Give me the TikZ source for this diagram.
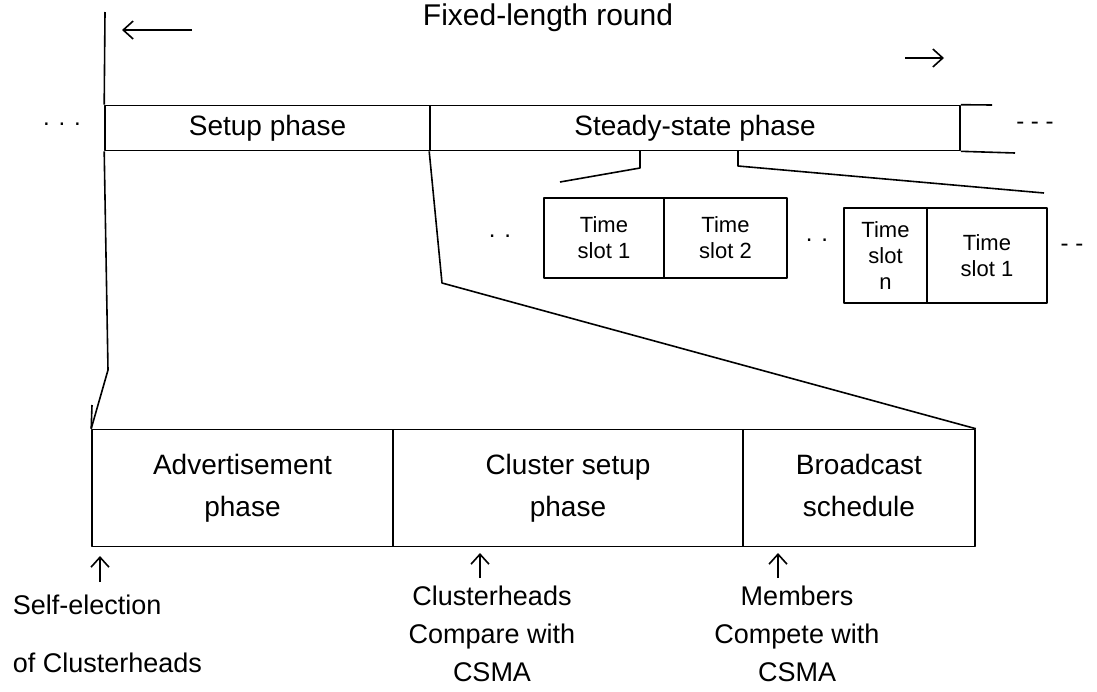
\documentclass[tikz,border=0pt]{standalone}
\usepackage{fontspec}
\setmainfont{Liberation Sans}
\usetikzlibrary{arrows.meta}
\begin{document}
\begin{tikzpicture}[x=1pt,y=-1pt,
  line width=1.6pt, line join=round,
  cell/.style={draw, rectangle, inner sep=0pt, align=center, font=\fontsize{28}{42}\selectfont},
  slot/.style={draw, rectangle, inner sep=0pt, align=center, font=\fontsize{22}{26}\selectfont},
  lbl/.style={inner sep=0pt, font=\fontsize{28}{34}\selectfont},
  dots/.style={inner sep=0pt, font=\fontsize{24}{28}\selectfont},
  barb/.style={-{Straight Barb[length=10pt,width=18pt]}},
]
\useasboundingbox (0,0) rectangle (1097,691);

% top row
\node[lbl, font=\fontsize{30}{36}\selectfont] (title) at (548,18) {Fixed-length round};
\coordinate (la0) at (192,30); \coordinate (la1) at (122,30);
\draw[barb] (la0) -- (la1);
\coordinate (ra0) at (905,58); \coordinate (ra1) at (944,58);
\draw[barb] (ra0) -- (ra1);

\node[cell, minimum width=325pt, minimum height=45pt] (setup) at (267.5,128) {Setup phase};
\node[cell, minimum width=530pt, minimum height=45pt] (steady) at (695,128) {Steady-state phase};
\coordinate (tx) at (992,105);
\coordinate (bx) at (1015,153);
\draw (steady.north east) -- (tx);
\draw (steady.south east) -- (bx);
\coordinate (ltop) at (105,12);
\draw (ltop) -- (setup.north west);
\node[dots] (dl) at (62,124) {. . .};
\node[dots] (dr) at (1035,126) {- - -};

% steady-state expansion
\coordinate (b1a) at (640,150.5); \coordinate (b1b) at (640,168); \coordinate (b1c) at (560,182);
\draw (b1a) -- (b1b) -- (b1c);
\coordinate (b2a) at (738,150.5); \coordinate (b2b) at (738,166); \coordinate (b2c) at (1044,193);
\draw (b2a) -- (b2b) -- (b2c);

\node[slot, minimum width=120pt, minimum height=80pt] (s1) at (604,238) {Time\\slot 1};
\node[slot, minimum width=123pt, minimum height=80pt] (s2) at (725.5,238) {Time\\slot 2};
\node[slot, minimum width=83pt, minimum height=95pt] (sn) at (885.5,255.5) {Time\\slot\\n};
\node[slot, minimum width=120pt, minimum height=95pt] (s1b) at (987,255.5) {Time\\slot 1};
\node[dots] (d1) at (500,236) {. .};
\node[dots] (d2) at (817,240) {. .};
\node[dots] (d3) at (1072,248) {- -};

% setup expansion
\node[cell, minimum width=301pt, minimum height=117pt] (adv) at (242.5,488) {Advertisement\\phase};
\node[cell, minimum width=350pt, minimum height=117pt] (csp) at (568,488) {Cluster setup\\phase};
\node[cell, minimum width=232pt, minimum height=117pt] (bsc) at (859,488) {Broadcast\\schedule\vphantom{p}};

\coordinate (lbend) at (108,370);
\draw (setup.south west) -- (lbend) -- (adv.north west);
\coordinate (ladv) at (92,405);
\draw (adv.north west) -- (ladv);
\coordinate (rbend) at (442,283);
\draw (steady.south west) -- (rbend) -- (bsc.north east);

% annotations
\coordinate (a1s) at (100,582); \coordinate (a1e) at (100,556);
\coordinate (a2s) at (480,578); \coordinate (a2e) at (480,553);
\coordinate (a3s) at (778,578); \coordinate (a3e) at (778,553);
\draw[barb] (a1s) -- (a1e);
\draw[barb] (a2s) -- (a2e);
\draw[barb] (a3s) -- (a3e);

\node[lbl, align=left, anchor=west, font=\fontsize{27}{58}\selectfont] (selfel) at (12,634) {Self-election\\of Clusterheads};
\node[lbl, align=center, font=\fontsize{27}{38}\selectfont] (chl) at (492,634) {Clusterheads\\Compare with\\CSMA};
\node[lbl, align=center, font=\fontsize{27}{38}\selectfont] (mem) at (797,634) {Members\\Compete with\\CSMA};
\end{tikzpicture}
\end{document}
